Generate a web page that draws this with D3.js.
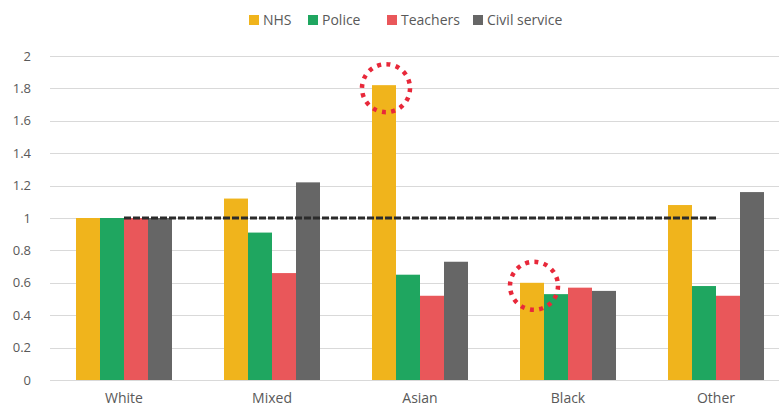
<!DOCTYPE html>
<html>
<head>
<meta charset="utf-8">
<script src="https://cdn.jsdelivr.net/npm/d3@7"></script>
<style>
  body { margin: 0; background: #fff; }
  text { font-family: "Open Sans", "Liberation Sans", sans-serif; fill: #595959; }
</style>
</head>
<body>
<div id="chart"></div>
<script>
// Data
var categories = ["White", "Mixed", "Asian", "Black", "Other"];
var seriesNames = ["NHS", "Police", "Teachers", "Civil service"];
var nhs = [1.0, 1.12, 1.82, 0.6, 1.08];
var police = [1.0, 0.91, 0.65, 0.53, 0.58];
var teachers = [1.0, 0.66, 0.52, 0.57, 0.52];
var civilService = [1.0, 1.22, 0.73, 0.55, 1.16];
var yTicks = [0, 0.2, 0.4, 0.6, 0.8, 1, 1.2, 1.4, 1.6, 1.8, 2];
var colors = ["#f0b41c", "#1fa660", "#e9575a", "#666666"];
var highlighted = [["Asian", "NHS"], ["Black", "NHS"]];

var width = 779;
var height = 408;
var margin = { top: 56, right: -11, bottom: 28, left: 50 };

var svg = d3.select("#chart")
    .append("svg")
    .attr("width", width)
    .attr("height", height);

var values = [nhs, police, teachers, civilService];
var data = categories.map(function(c, i) {
    return { category: c, values: seriesNames.map(function(s, j) { return { series: s, value: values[j][i] }; }) };
});

// Scales
var x0 = d3.scaleBand()
    .domain(categories)
    .range([margin.left, width - margin.right])
    .paddingInner(52 / 148)
    .paddingOuter(26 / 148);

var x1 = d3.scaleBand()
    .domain(seriesNames)
    .range([0, x0.bandwidth()]);

var y = d3.scaleLinear()
    .domain([0, 2])
    .range([height - margin.bottom, margin.top]);

// Gridlines
svg.append("g")
    .selectAll("line")
    .data(yTicks)
    .enter().append("line")
    .attr("x1", margin.left)
    .attr("x2", width)
    .attr("y1", function(d) { return Math.round(y(d)) + 0.5; })
    .attr("y2", function(d) { return Math.round(y(d)) + 0.5; })
    .attr("stroke", "#d9d9d9")
    .attr("stroke-width", 1);

// Y axis labels
var yAxis = svg.append("g")
    .attr("transform", "translate(" + (margin.left - 16) + ",0)")
    .call(d3.axisLeft(y).tickValues(yTicks).tickSize(0).tickFormat(d3.format("")));
yAxis.select(".domain").remove();
yAxis.selectAll("text")
    .style("font-size", "13px")
    .attr("fill", "#595959");

// Bars
svg.append("g")
    .selectAll("g")
    .data(data)
    .enter().append("g")
    .attr("transform", function(d) { return "translate(" + x0(d.category) + ",0)"; })
    .selectAll("rect")
    .data(function(d) { return d.values; })
    .enter().append("rect")
    .attr("x", function(d) { return x1(d.series); })
    .attr("y", function(d) { return y(d.value); })
    .attr("width", x1.bandwidth())
    .attr("height", function(d) { return y(0) - y(d.value); })
    .attr("fill", function(d, i) { return colors[i]; });

// Baseline
svg.append("line")
    .attr("x1", margin.left)
    .attr("x2", width)
    .attr("y1", y(0) + 0.5)
    .attr("y2", y(0) + 0.5)
    .attr("stroke", "#d9d9d9");

// X axis labels
var xAxis = svg.append("g")
    .attr("transform", "translate(0," + y(0) + ")")
    .call(d3.axisBottom(x0).tickSize(0).tickPadding(13));
xAxis.select(".domain").remove();
xAxis.selectAll("text")
    .style("font-size", "14px")
    .attr("fill", "#595959");

// Reference line at 1
svg.append("line")
    .attr("x1", x0("White") + x0.bandwidth() / 2)
    .attr("x2", x0("Other") + x0.bandwidth() / 2)
    .attr("y1", y(1))
    .attr("y2", y(1))
    .attr("stroke", "#2b2b2b")
    .attr("stroke-width", 3)
    .attr("stroke-dasharray", "7,2");

// Dotted highlight circles
svg.append("g")
    .selectAll("circle")
    .data(highlighted)
    .enter().append("circle")
    .attr("cx", function(d) { return x0(d[0]) + x1(d[1]) + x1.bandwidth() / 2 + 2; })
    .attr("cy", function(d) { return y(values[seriesNames.indexOf(d[1])][categories.indexOf(d[0])]) + 3; })
    .attr("r", 24)
    .attr("fill", "none")
    .attr("stroke", "#e8283a")
    .attr("stroke-width", 4.5)
    .attr("stroke-dasharray", "4,5.4");

// Legend
var legendX = [249, 308, 387, 473];
var legend = svg.append("g")
    .selectAll("g")
    .data(seriesNames)
    .enter().append("g")
    .attr("transform", function(d, i) { return "translate(" + legendX[i] + ",15)"; });
legend.append("rect")
    .attr("width", 10)
    .attr("height", 10)
    .attr("fill", function(d, i) { return colors[i]; });
legend.append("text")
    .attr("x", 14)
    .attr("y", 10)
    .style("font-size", "14px")
    .text(function(d) { return d; });
</script>
</body>
</html>
